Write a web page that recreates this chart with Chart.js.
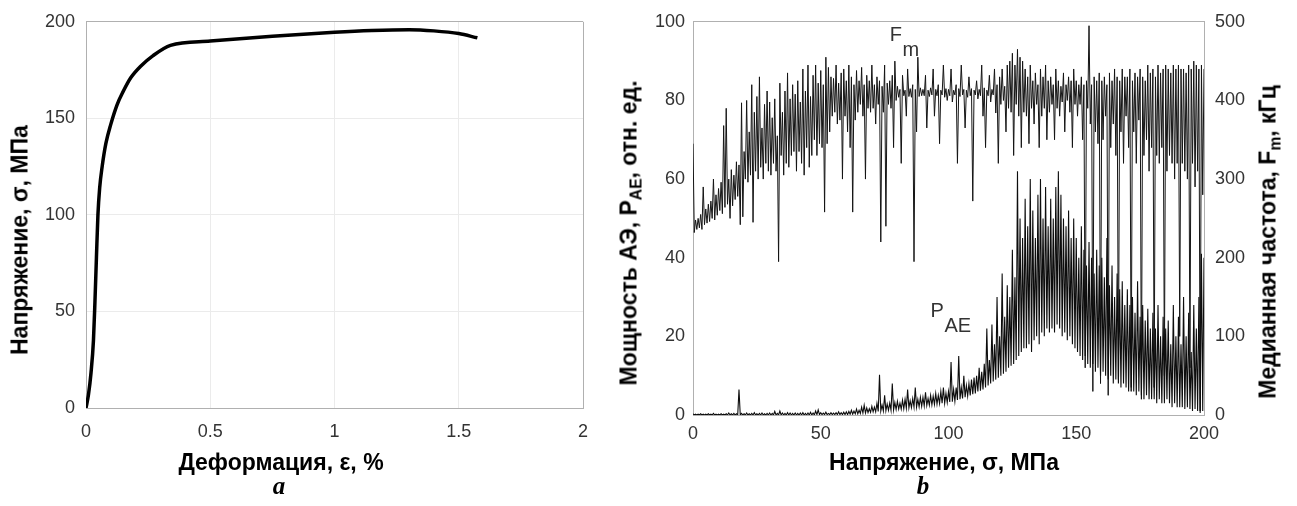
<!DOCTYPE html>
<html>
<head>
<meta charset="utf-8">
<script src="https://cdn.jsdelivr.net/npm/chart.js@4.4.1/dist/chart.umd.min.js"></script>
<style>
body { margin: 0; background: #fff; width: 1297px; height: 506px; position: relative; overflow: hidden; }
canvas { position: absolute; top: 0; }
.ttl { position: absolute; white-space: nowrap; line-height: 1; font-family: 'Liberation Sans', Arial, sans-serif; font-weight: bold; font-size: 23px; color: #000; transform: translate(-50%, -50%); z-index: 2; }
.rot { transform: translate(-50%, -50%) rotate(-90deg); }
.cap { position: absolute; line-height: 1; font-family: 'Liberation Serif', 'Times New Roman', serif; font-style: italic; font-weight: bold; font-size: 25px; transform: translate(-50%, -50%); z-index: 2; }
sub { font-size: 68%; vertical-align: -0.3em; line-height: 0; }
</style>
</head>
<body>
<canvas id="chartA" width="640" height="506" style="left:0"></canvas>
<canvas id="chartB" width="677" height="506" style="left:620px"></canvas>

<div class="ttl rot" style="left:20px;top:240px">Напряжение, σ, МПа</div>
<div class="ttl" style="left:281px;top:462px">Деформация, ε, %</div>
<div class="cap" style="left:279px;top:485px">a</div>

<div class="ttl rot" style="left:629px;top:233px">Мощность АЭ, P<sub>AE</sub>, отн. ед.</div>
<div class="ttl rot" style="left:1268px;top:242px">Медианная частота, F<sub>m</sub>, кГц</div>
<div class="ttl" style="left:944px;top:462px">Напряжение, σ, МПа</div>
<div class="cap" style="left:923px;top:485px">b</div>

<script>
// (a) кривая нагружения
var strainPct = [0, 0.01, 0.02, 0.03, 0.036, 0.042, 0.048, 0.055, 0.065, 0.08, 0.1, 0.125, 0.15, 0.18, 0.22, 0.27, 0.34, 0.5, 0.75, 1.0, 1.15, 1.3, 1.4, 1.5, 1.575];
var stressMPa = [0, 7, 18, 35, 55, 78, 100, 114, 125, 137, 147, 157, 164, 171, 177, 182.5, 187.8, 190, 192.5, 194.6, 195.5, 195.9, 195.3, 193.9, 191.7];

// (b) шаг по напряжению 1 МПа, 0..200; для каждого шага - верх и низ размаха сигнала
var stressBins = [];
for (var s = 0; s <= 200; s++) stressBins.push(s);

// медианная частота F_m, кГц (правая ось)
var fmHigh = [
  345, 248, 250, 255, 290, 262, 268, 272, 300, 280,
  288, 296, 368, 390, 300, 312, 305, 322, 318, 397,
  335, 400, 360, 420, 385, 405, 430, 365, 395, 412,
  398, 378, 402, 355, 422, 385, 412, 435, 402, 420,
  408, 425, 398, 440, 412, 445, 405, 432, 445, 422,
  438, 420, 455, 442, 430, 428, 445, 422, 435, 440,
  425, 445, 430, 420, 438, 425, 442, 420, 432, 425,
  445, 420, 430, 425, 418, 445, 422, 425, 432, 450,
  418, 414, 432, 413, 440, 415, 420, 414, 455, 416,
  414, 432, 413, 416, 440, 414, 420, 413, 445, 415,
  414, 440, 413, 420, 415, 445, 414, 413, 430, 415,
  413, 425, 414, 445, 416, 413, 432, 414, 440, 420,
  430, 440, 418, 445, 450, 460, 445, 465, 455, 450,
  440, 430, 445, 425, 435, 420, 440, 430, 445, 425,
  430, 420, 440, 425, 418, 435, 420, 430, 425, 440,
  425, 420, 430, 420, 425, 495, 420, 430, 425, 435,
  425, 430, 420, 435, 425, 440, 430, 425, 440, 430,
  430, 440, 425, 435, 430, 440, 430, 425, 445, 435,
  440, 430, 445, 435, 440, 445, 440, 435, 445, 440,
  445, 440, 440, 435, 445, 440, 450, 445, 440, 445,
  440
];
var fmLow = [
  232, 236, 238, 236, 242, 244, 246, 250, 248, 254,
  260, 256, 264, 268, 250, 266, 274, 278, 242, 252,
  300, 296, 305, 245, 310, 300, 315, 300, 320, 310,
  305, 320, 310, 195, 330, 305, 320, 315, 330, 335,
  310, 335, 320, 305, 340, 315, 330, 350, 330, 345,
  340, 258, 345, 360, 380, 385, 370, 375, 300, 380,
  360, 340, 258, 375, 385, 395, 380, 300, 390, 385,
  390, 370, 395, 220, 385, 240, 395, 390, 340, 400,
  404, 320, 406, 380, 405, 404, 195, 360, 405, 406,
  406, 365, 405, 407, 380, 406, 345, 407, 404, 400,
  406, 398, 407, 320, 405, 407, 365, 404, 406, 272,
  407, 402, 406, 380, 340, 406, 398, 407, 384, 320,
  395, 400, 360, 390, 385, 330, 395, 380, 340, 385,
  380, 345, 390, 370, 395, 340, 380, 390, 350, 385,
  395, 350, 390, 380, 398, 360, 400, 385, 340, 395,
  380, 395, 350, 60, 390, 370, 30, 360, 345, 40,
  350, 380, 25, 340, 370, 330, 45, 360, 320, 380,
  340, 30, 360, 320, 375, 20, 330, 350, 310, 340,
  35, 330, 320, 340, 50, 310, 330, 320, 300, 320,
  100, 320, 310, 300, 60, 320, 290, 310, 5, 280,
  230
];

// мощность АЭ P_AE, отн. ед. (левая ось)
var paeHigh = [
  0.3, 0.2, 0.2, 0.3, 0.2, 0.2, 0.3, 0.2, 0.4, 0.2,
  0.2, 0.3, 0.2, 0.3, 0.5, 0.3, 0.4, 0.3, 6.5, 0.4,
  0.3, 0.5, 0.3, 0.4, 0.6, 0.3, 0.4, 0.5, 0.3, 0.4,
  0.5, 0.4, 0.9, 0.4, 1.0, 0.5, 0.4, 0.6, 0.5, 0.4,
  0.5, 0.4, 0.5, 0.6, 0.4, 0.5, 0.7, 0.5, 1.0, 1.3,
  0.6, 0.5, 0.7, 0.4, 0.6, 0.5, 0.6, 0.8, 0.6, 0.7,
  0.8, 0.9, 1.2, 1.0, 1.5, 1.2, 2.0, 2.5, 1.8, 1.6,
  2.2, 2.0, 3.0, 10.2, 2.5, 5.0, 2.8, 3.0, 8.0, 3.2,
  3.5, 3.0, 3.8, 4.0, 6.5, 3.6, 4.2, 7.0, 4.0, 4.5,
  4.5, 5.8, 4.2, 5.0, 4.8, 5.5, 5.0, 6.0, 7.0, 5.5,
  6.0, 13.5, 6.5, 7.0, 15.0, 7.0, 10.0, 7.5, 8.0, 9.0,
  9.5, 10.0, 12.0, 11.0, 13.0, 22.0, 14.0, 23.0, 18.0, 30.0,
  20, 36, 25, 33, 30, 42, 35, 62, 50, 45,
  55, 48, 60, 52, 45, 56, 60, 50, 58, 48,
  55, 50, 58, 62, 56, 50, 48, 52, 45, 50,
  45, 40, 48, 42, 38, 44, 40, 36, 42, 38,
  40, 35, 45, 33, 38, 30, 36, 32, 34, 28,
  32, 28, 30, 26, 34, 25, 28, 24, 27, 22,
  26, 22, 28, 20, 25, 22, 24, 18, 28, 20,
  25, 18, 30, 20, 26, 16, 28, 22, 30, 41,
  40
];
var paeLow = [
  0, 0, 0, 0, 0, 0, 0, 0, 0, 0,
  0, 0, 0, 0, 0, 0, 0, 0, 0, 0,
  0, 0, 0, 0, 0, 0, 0, 0, 0, 0,
  0, 0, 0, 0, 0, 0, 0, 0, 0, 0,
  0, 0, 0, 0, 0, 0, 0, 0, 0.1, 0.1,
  0.1, 0.1, 0.1, 0.1, 0.1, 0.1, 0.1, 0.1, 0.1, 0.1,
  0.1, 0.2, 0.2, 0.3, 0.3, 0.4, 0.5, 0.5, 0.6, 0.7,
  0.8, 0.8, 0.9, 1.0, 1.0, 1.1, 1.2, 1.2, 1.3, 1.4,
  1.5, 1.5, 1.6, 1.7, 1.8, 1.9, 2.0, 2.0, 2.1, 2.2,
  2.3, 2.4, 2.5, 2.6, 2.7, 2.8, 2.9, 3.0, 3.0, 3.2,
  3.3, 3.4, 3.5, 3.8, 4.0, 4.2, 4.5, 4.8, 5.0, 5.3,
  5.5, 6.0, 6.2, 6.5, 7.0, 7.5, 8.0, 8.5, 9.0, 9.5,
  10, 10.5, 11, 12, 12.5, 13, 14, 15, 16, 17,
  17, 18, 16, 19, 20, 18, 21, 20, 22, 21,
  22, 21, 23, 22, 20, 21, 19, 20, 18, 17,
  16, 15, 14, 15, 13, 12, 13, 11, 12, 10,
  11, 10, 9, 10, 8, 9, 8, 7, 8, 7,
  6, 7, 6, 5, 6, 5, 4, 5, 4, 4,
  4, 3, 4, 3, 3, 4, 3, 2, 3, 2,
  2, 2, 1.5, 2, 1.5, 1, 1.5, 1, 0.5, 1,
  1
];

// подписи кривых на графике (b), в координатах данных
var curveLabels = [
  { main: 'F', sub: 'm', x: 77, y: 95 },
  { main: 'P', sub: 'AE', x: 93, y: 25 }
];

var tickFont = { family: "'Liberation Sans', Arial, sans-serif", size: 18 };
var tickColor = '#333';
var boxColor = '#b0b0b0';

// верх и низ каждого шага поочерёдно -> ломаная
function zigzag(hi, lo) {
  var pts = [];
  for (var i = 0; i < stressBins.length; i++) {
    pts.push({ x: stressBins[i], y: hi[i] });
    pts.push({ x: stressBins[i] + 0.5, y: lo[i] });
  }
  return pts;
}

function plainNum(v) { return String(v); }

new Chart(document.getElementById('chartA'), {
  type: 'line',
  data: {
    datasets: [{
      data: strainPct.map(function (e, i) { return { x: e, y: stressMPa[i] }; }),
      borderColor: '#000',
      borderWidth: 3.5,
      pointRadius: 0,
      cubicInterpolationMode: 'monotone',
      fill: false
    }]
  },
  options: {
    responsive: false,
    animation: false,
    layout: { padding: { top: 15, right: 57, left: 0, bottom: 0 } },
    plugins: { legend: { display: false }, tooltip: { enabled: false } },
    scales: {
      x: {
        type: 'linear', min: 0, max: 2,
        ticks: { stepSize: 0.5, font: tickFont, color: tickColor, padding: 13, maxRotation: 0, callback: plainNum },
        grid: { drawTicks: false, color: function (c) { return c.tick && c.tick.value === 2 ? boxColor : '#ebebeb'; } },
        border: { color: boxColor },
        afterFit: function (s) { s.height = 98; }
      },
      y: {
        min: 0, max: 200,
        ticks: { stepSize: 50, font: tickFont, color: tickColor, padding: 11, callback: plainNum },
        grid: { drawTicks: false, color: function (c) { return c.tick && c.tick.value === 200 ? boxColor : '#ebebeb'; } },
        border: { color: boxColor },
        afterFit: function (s) { s.width = 86; }
      }
    }
  }
});

var curveLabelPlugin = {
  id: 'curveLabels',
  afterDatasetsDraw: function (chart) {
    var ctx = chart.ctx;
    var xs = chart.scales.x, ys = chart.scales.y;
    ctx.save();
    ctx.font = "20px 'Liberation Sans', Arial, sans-serif";
    ctx.fillStyle = '#333';
    ctx.textBaseline = 'alphabetic';
    curveLabels.forEach(function (l) {
      var px = xs.getPixelForValue(l.x), py = ys.getPixelForValue(l.y);
      ctx.fillText(l.main, px, py);
      ctx.fillText(l.sub, px + ctx.measureText(l.main).width + 0.5, py + 15);
    });
    ctx.restore();
  }
};

new Chart(document.getElementById('chartB'), {
  type: 'line',
  data: {
    datasets: [
      { label: 'PAE', data: zigzag(paeHigh, paeLow), yAxisID: 'y', borderColor: '#0d0d0d', borderWidth: 1.1, pointRadius: 0, tension: 0 },
      { label: 'Fm', data: zigzag(fmHigh, fmLow), yAxisID: 'y2', borderColor: '#151515', borderWidth: 1.0, pointRadius: 0, tension: 0 }
    ]
  },
  options: {
    responsive: false,
    animation: false,
    layout: { padding: { top: 18, right: 0, left: 0, bottom: 0 } },
    plugins: { legend: { display: false }, tooltip: { enabled: false } },
    scales: {
      x: {
        type: 'linear', min: 0, max: 200,
        ticks: { stepSize: 50, font: tickFont, color: tickColor, padding: 8, maxRotation: 0 },
        grid: { drawTicks: false, color: function (c) { return c.tick && c.tick.value === 200 ? boxColor : 'rgba(0,0,0,0)'; } },
        border: { color: boxColor },
        afterFit: function (s) { s.height = 91; }
      },
      y: {
        position: 'left', min: 0, max: 100,
        ticks: { stepSize: 20, font: tickFont, color: tickColor, padding: 8 },
        grid: { drawTicks: false, color: function (c) { return c.tick && c.tick.value === 100 ? boxColor : 'rgba(0,0,0,0)'; } },
        border: { color: boxColor },
        afterFit: function (s) { s.width = 73; }
      },
      y2: {
        position: 'right', min: 0, max: 500,
        ticks: { stepSize: 100, font: tickFont, color: tickColor, padding: 11 },
        grid: { display: false, drawTicks: false },
        border: { color: boxColor },
        afterFit: function (s) { s.width = 93; }
      }
    }
  },
  plugins: [curveLabelPlugin]
});
</script>
</body>
</html>
